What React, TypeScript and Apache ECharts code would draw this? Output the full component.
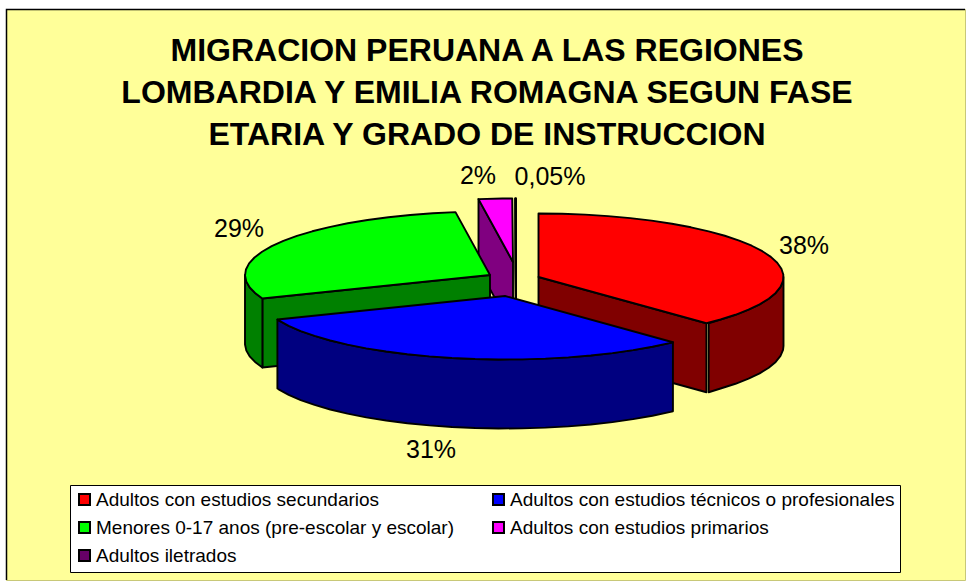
import React, { useEffect, useRef } from "react";
import * as echarts from "echarts";

const titleText = "MIGRACION PERUANA A LAS REGIONES\nLOMBARDIA Y EMILIA ROMAGNA SEGUN FASE\nETARIA Y GRADO DE INSTRUCCION";
const categories = [
  "Adultos con estudios secundarios",
  "Adultos con estudios técnicos o profesionales",
  "Menores 0-17 anos (pre-escolar y escolar)",
  "Adultos con estudios primarios",
  "Adultos iletrados",
];
const values = [38, 31, 28.8, 2.2, 0.05];
const percentLabels = ["38%", "31%", "29%", "2%", "0,05%"];
const topColors = ["#ff0000", "#0000ff", "#00ff00", "#ff00ff", "#660066"];
const sideColors = ["#800000", "#000080", "#008000", "#800080", "#330033"];

// layout of the exploded 3-D pie
const RX = 245;
const RY = 63.5;
const DEPTH = 69;
const STEP = 5.5;
const APEX: [number, number][] = [[538.5, 277], [505, 296], [490, 275], [513, 262], [516, 262]];
const LABEL_POS: [number, number][] = [[804, 245], [431, 449], [239, 228], [478, 175], [550, 176]];
const DRAW_ORDER = [3, 4, 0, 2, 1];
const WALL_GAP = [2.2, 0, 0, 0, 0];
const FONT = '"Liberation Sans", Arial, sans-serif';
const STROKE = 1.9;

const total = values.reduce((a, b) => a + b, 0);
const bounds: [number, number][] = [];
values.reduce((acc, v, i) => {
  const next = acc + (v / total) * 360;
  bounds[i] = [acc, next];
  return next;
}, 0);

const rad = (d: number) => (d * Math.PI) / 180;

function arcPoints(i: number, from: number, to: number, drop = 0): number[][] {
  const [ax, ay] = APEX[i];
  const pts: number[][] = [];
  const pt = (t: number) => [ax + RX * Math.sin(rad(t)), ay - RY * Math.cos(rad(t)) + drop];
  pts.push(pt(from));
  for (let t = Math.ceil(from / STEP) * STEP; t < to; t += STEP) {
    if (t > from) pts.push(pt(t));
  }
  pts.push(pt(to));
  return pts;
}

function sliceElements(i: number) {
  const [a, b] = bounds[i];
  const apex = APEX[i];
  const children: any[] = [];
  const lineStyle = { stroke: "#000", lineWidth: STROKE, lineJoin: "round" };
  const poly = (points: number[][], fill: string) => ({
    type: "polygon",
    shape: { points },
    style: { fill, ...lineStyle },
    silent: true,
  });
  const face = (t: number) => {
    const edge = arcPoints(i, t, t)[0];
    return poly(
      [apex, edge, [edge[0], edge[1] + DEPTH], [apex[0], apex[1] + DEPTH]],
      sideColors[i],
    );
  };
  if (Math.sin(rad(a)) < 0) children.push(face(a));
  if (Math.sin(rad(b)) > 0) children.push(face(b));
  const wallFrom = Math.max(a, 90);
  const wallTo = Math.min(b, 270);
  if (wallFrom < wallTo) {
    const upper = arcPoints(i, wallFrom, wallTo);
    const lower = arcPoints(i, wallFrom, wallTo, DEPTH).reverse();
    upper[upper.length - 1] = [upper[upper.length - 1][0] + WALL_GAP[i], upper[upper.length - 1][1]];
    lower[0] = [lower[0][0] + WALL_GAP[i], lower[0][1]];
    children.push(poly([...upper, ...lower], sideColors[i]));
  }
  children.push(poly([apex, ...arcPoints(i, a, b)], topColors[i]));
  children.push({
    type: "text",
    x: LABEL_POS[i][0],
    y: LABEL_POS[i][1],
    silent: true,
    style: {
      text: percentLabels[i],
      fill: "#000",
      font: `25px ${FONT}`,
      align: "center",
      verticalAlign: "middle",
    },
  });
  return children;
}

const legendStyle = {
  orient: "vertical",
  itemWidth: 11,
  itemHeight: 11,
  itemGap: 9,
  padding: 0,
  selectedMode: false,
  textStyle: { fontFamily: FONT, fontSize: 19, color: "#000", padding: [0, 0, 0, 1] },
};
const legendItem = (i: number) => ({
  name: categories[i],
  icon: "rect",
  itemStyle: { color: topColors[i], borderColor: "#000", borderWidth: 2 },
});

export default function App() {
  const ref = useRef<HTMLDivElement>(null);
  useEffect(() => {
    const chart = echarts.init(ref.current!, undefined, { renderer: "svg" });
    chart.setOption({
      animation: false,
      backgroundColor: "#ffffff",
      title: {
        text: titleText,
        left: 482,
        top: 24,
        textAlign: "center",
        textStyle: { fontFamily: FONT, fontSize: 32, fontWeight: "bold", color: "#000", lineHeight: 42 },
      },
      legend: [
        { ...legendStyle, left: 78, top: 490, data: [0, 2, 4].map(legendItem) },
        { ...legendStyle, left: 492, top: 490, data: [1, 3].map(legendItem) },
      ],
      graphic: [
        { type: "rect", z: -10, silent: true, shape: { x: 6.5, y: 9.5, width: 959, height: 571 }, style: { fill: "#ffff99", stroke: "#c8c878", lineWidth: 1 } },
        { type: "polyline", z: -9, silent: true, shape: { points: [[6.5, 580], [6.5, 9.5], [965, 9.5]] }, style: { fill: "none", stroke: "#000", lineWidth: 1.5 } },
        { type: "rect", z: -8, silent: true, shape: { x: 70.5, y: 485.5, width: 830, height: 87 }, style: { fill: "#ffffff", stroke: "#000", lineWidth: 1 } },
      ],
      series: DRAW_ORDER.map((i, order) => ({
        type: "custom",
        name: categories[i],
        coordinateSystem: "none",
        z: 2 + order,
        itemStyle: { color: topColors[i] },
        data: [[values[i]]],
        renderItem: () => ({ type: "group", children: sliceElements(i) }),
      })),
    });
    return () => chart.dispose();
  }, []);
  return <div ref={ref} style={{ position: "fixed", left: 0, top: 0, width: 966, height: 581 }} />;
}
